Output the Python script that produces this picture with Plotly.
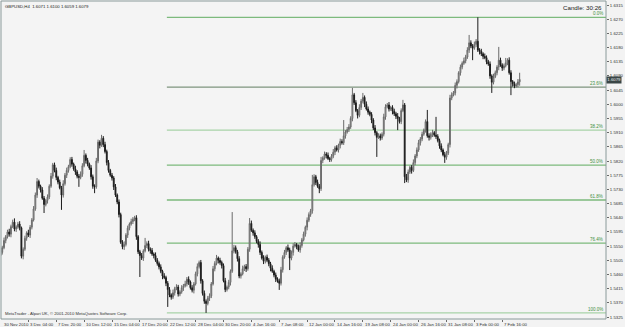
import plotly.graph_objects as go

# ---------------- data ----------------
symbol = "GBPUSD,H4"
first_open = 1.5520
closes = [
    1.5530,1.5545,1.5568,1.5580,1.5595,1.5588,1.5612,1.5626,1.5604,1.5611,
    1.5620,1.5608,1.5518,1.5540,1.5575,1.5592,1.5585,1.5610,1.5633,1.5668,
    1.5712,1.5755,1.5740,1.5728,1.5702,1.5682,1.5695,1.5706,1.5740,1.5772,
    1.5808,1.5790,1.5768,1.5753,1.5735,1.5712,1.5748,1.5775,1.5790,1.5802,
    1.5825,1.5810,1.5795,1.5785,1.5772,1.5768,1.5778,1.5805,1.5838,1.5822,
    1.5810,1.5798,1.5770,1.5740,1.5738,1.5820,1.5880,1.5870,1.5892,1.5872,
    1.5850,1.5815,1.5790,1.5775,1.5766,1.5738,1.5712,1.5690,1.5650,1.5562,
    1.5548,1.5555,1.5585,1.5607,1.5620,1.5628,1.5635,1.5640,1.5580,1.5532,
    1.5520,1.5512,1.5535,1.5552,1.5558,1.5540,1.5536,1.5525,1.5520,1.5505,
    1.5495,1.5484,1.5470,1.5455,1.5450,1.5432,1.5412,1.5395,1.5388,1.5402,
    1.5415,1.5420,1.5398,1.5405,1.5418,1.5424,1.5430,1.5445,1.5436,1.5418,
    1.5410,1.5430,1.5462,1.5485,1.5498,1.5440,1.5400,1.5375,1.5368,1.5385,
    1.5392,1.5430,1.5478,1.5495,1.5512,1.5505,1.5498,1.5488,1.5440,1.5412,
    1.5420,1.5435,1.5470,1.5535,1.5545,1.5532,1.5510,1.5455,1.5462,1.5478,
    1.5485,1.5478,1.5540,1.5622,1.5600,1.5592,1.5580,1.5565,1.5555,1.5530,
    1.5512,1.5502,1.5515,1.5505,1.5494,1.5480,1.5470,1.5458,1.5445,1.5440,
    1.5432,1.5475,1.5515,1.5530,1.5545,1.5538,1.5512,1.5530,1.5550,1.5555,
    1.5548,1.5538,1.5552,1.5570,1.5588,1.5610,1.5632,1.5650,1.5662,1.5745,
    1.5770,1.5752,1.5740,1.5732,1.5822,1.5830,1.5842,1.5838,1.5828,1.5825,
    1.5835,1.5848,1.5862,1.5855,1.5870,1.5882,1.5878,1.5900,1.5912,1.5920,
    1.5928,1.5955,1.6030,1.6005,1.5980,1.5965,1.5990,1.6010,1.6022,1.6000,
    1.5985,1.5975,1.5968,1.5950,1.5925,1.5910,1.5895,1.5900,1.5893,1.5905,
    1.5960,1.5992,1.5998,1.5985,1.5990,1.5978,1.5970,1.5962,1.5955,1.5945,
    1.5980,1.5998,1.5770,1.5760,1.5785,1.5800,1.5790,1.5815,1.5836,1.5855,
    1.5878,1.5890,1.5905,1.5918,1.5945,1.5900,1.5895,1.5905,1.5910,1.5902,
    1.5898,1.5885,1.5868,1.5855,1.5840,1.5832,1.5845,1.5872,1.6020,1.6030,
    1.6036,1.6060,1.6072,1.6100,1.6118,1.6130,1.6138,1.6150,1.6172,1.6195,
    1.6185,1.6178,1.6190,1.6200,1.6172,1.6168,1.6160,1.6152,1.6148,1.6135,
    1.6128,1.6090,1.6070,1.6088,1.6100,1.6118,1.6140,1.6125,1.6115,1.6122,
    1.6132,1.6140,1.6100,1.6072,1.6065,1.6058,1.6062,1.6071,1.6079,
]
# wick lengths above / below the candle body, in pips
upper_wick_pips = [
    8,6,9,5,7,10,6,8,12,5,7,9,4,6,8,5,10,7,6,9,
    8,11,6,5,9,7,5,8,6,10,6,7,9,5,8,6,11,7,9,6,
    7,8,5,10,6,7,9,8,17,6,8,5,9,7,6,10,8,6,11,7,
    9,6,8,5,7,6,9,5,8,6,7,10,6,8,5,9,7,6,8,5,
    6,8,5,24,7,9,6,8,5,10,7,6,8,5,9,6,7,8,5,10,
    6,9,7,5,8,6,10,7,9,5,8,6,7,10,6,8,5,9,6,7,
    8,6,9,7,10,5,8,6,7,9,5,8,6,123,9,7,6,8,5,10,
    6,8,7,17,9,6,8,5,7,10,6,9,5,8,7,6,9,5,8,6,
    7,9,6,8,5,10,7,6,9,8,5,7,10,6,8,5,9,7,6,31,
    8,6,9,7,11,5,8,6,9,5,7,10,6,8,5,9,7,50,6,8,
    9,7,22,6,8,5,10,7,14,6,9,8,5,7,6,9,5,8,7,6,
    10,8,6,9,5,7,8,6,10,5,7,16,6,9,8,5,7,10,6,8,
    9,6,8,5,7,37,8,6,9,5,58,7,6,8,5,9,7,6,10,8,
    6,9,7,5,8,6,10,7,9,25,8,6,9,7,76,6,8,5,9,7,
    6,8,5,9,7,6,42,8,5,7,15,6,9,8,5,7,6,9,21,
]
lower_wick_pips = [
    24,7,5,9,6,8,10,5,7,9,6,8,7,10,5,8,6,9,7,5,
    6,9,7,8,5,27,6,10,7,5,8,6,9,7,5,47,8,6,9,7,
    5,8,6,9,7,30,6,8,5,10,7,6,9,8,20,6,7,10,5,8,
    6,9,7,5,8,10,6,7,9,5,8,10,6,9,7,5,8,6,10,7,
    68,6,9,5,8,7,10,6,9,5,7,8,6,10,5,9,55,7,8,6,
    9,5,8,7,6,10,5,8,9,6,7,10,5,8,6,9,7,8,30,6,
    9,7,5,8,6,10,7,9,5,8,6,7,10,5,8,6,9,7,8,5,
    7,10,6,8,5,9,7,6,10,8,5,9,7,6,8,10,5,7,9,6,
    21,7,9,5,8,6,38,7,10,5,8,6,9,7,5,8,10,6,7,9,
    6,8,5,14,7,9,6,10,5,8,7,6,9,5,8,10,6,7,9,5,
    8,6,9,7,5,10,6,8,7,9,5,8,6,10,7,9,62,5,8,6,
    7,9,5,8,6,10,7,9,37,6,8,5,20,7,9,6,10,5,8,7,
    6,9,7,5,8,6,10,7,9,5,8,6,9,7,5,18,8,6,9,7,
    5,8,10,6,9,7,5,8,6,9,7,38,5,8,6,10,7,9,5,8,
    6,9,34,7,5,8,10,6,9,7,5,8,6,43,9,7,5,8,12,
]
x_tick_idx = [0,16,32,48,64,80,96,112,128,144,160,176,192,208,224,240,256,272,288]
x_tick_labels = ["30 Nov 2010","3 Dec 04:00","7 Dec 20:00","10 Dec 12:00","15 Dec 04:00",
                 "17 Dec 20:00","22 Dec 12:00","28 Dec 04:00","30 Dec 20:00","4 Jan 16:00",
                 "7 Jan 08:00","12 Jan 00:00","14 Jan 16:00","19 Jan 08:00","24 Jan 00:00",
                 "26 Jan 16:00","31 Jan 08:00","3 Feb 00:00","7 Feb 16:00"]
price_ticks = [1.6315,1.6270,1.6225,1.6180,1.6135,1.6090,1.6045,1.6000,1.5955,1.5910,1.5865,
               1.5820,1.5775,1.5730,1.5685,1.5640,1.5595,1.5550,1.5505,1.5460,1.5415,1.5370,1.5325]
fib_pcts = [0.0, 23.6, 38.2, 50.0, 61.8, 76.4, 100.0]
fib_labels = ["0.0%", "23.6%", "38.2%", "50.0%", "61.8%", "76.4%", "100.0%"]
fib_colors = ["#7dba7d", "#7f957f", "#a8d3a8", "#7dba7d", "#7dba7d", "#7dba7d", "#a8d3a8"]
fib_start_bar = 95.5
candle_timer = "Candle: 30:26"
copyright_text = "MetaTrader - Alpari UK, \u00a9 2001-2010 MetaQuotes Software Corp."

assert len(closes) == len(upper_wick_pips) == len(lower_wick_pips) == 299

# ---------------- build OHLC ----------------
opens = [first_open] + closes[:-1]
highs = [round(max(o, c) + u * 0.0001, 4) for o, c, u in zip(opens, closes, upper_wick_pips)]
lows = [round(min(o, c) - d * 0.0001, 4) for o, c, d in zip(opens, closes, lower_wick_pips)]
idx = list(range(len(closes)))

W, H = 625, 327
ML, MR, MT, MB = 1, 17, 1, 8
px_per_bar = 1.745
x_range = [0.5 / px_per_bar, (W - MR - ML - 0.5) / px_per_bar]
y_range = [1.53187, 1.63277]

fig = go.Figure()
fig.add_trace(go.Candlestick(
    x=idx, open=opens, high=highs, low=lows, close=closes,
    increasing=dict(line=dict(color="#6a6a6a", width=1), fillcolor="#c4c4c4"),
    decreasing=dict(line=dict(color="#1c1c1c", width=1), fillcolor="#1c1c1c"),
    whiskerwidth=0, hoverinfo="skip", showlegend=False,
))

fib_hi, fib_lo = max(highs), min(lows)
shapes, annotations = [], []
for p, lab, col in zip(fib_pcts, fib_labels, fib_colors):
    lvl = fib_hi - p / 100.0 * (fib_hi - fib_lo)
    shapes.append(dict(type="line", xref="x", yref="y", x0=fib_start_bar, x1=x_range[1],
                       y0=lvl, y1=lvl, line=dict(color=col, width=1.3), layer="below"))
    annotations.append(dict(x=0.998, xref="paper", y=lvl, yref="y", text=lab, showarrow=False,
                            xanchor="right", yanchor="bottom", yshift=-1,
                            font=dict(family="Liberation Sans", size=4.5, color="#3f8f3f")))

# frame
shapes.append(dict(type="rect", xref="paper", yref="paper", x0=0, x1=1, y0=0, y1=1,
                   line=dict(color="#8a9a9a", width=1)))

# x labels (left-aligned after tick, MT4 style)
for i, lab in zip(x_tick_idx, x_tick_labels):
    annotations.append(dict(x=max(i, x_range[0] + 0.6), xref="x", y=0, yref="paper", text=lab,
                            showarrow=False, xanchor="left", yanchor="top", yshift=-1,
                            font=dict(family="Liberation Sans", size=4.3, color="#303030")))

last_o, last_h, last_l, last_c = opens[-1], highs[-1], lows[-1], closes[-1]
annotations.append(dict(x=0.004, xref="paper", y=0.996, yref="paper",
                        text=f"{symbol}  {last_o:.4f} {last_h:.4f} {last_l:.4f} {last_c:.4f}",
                        showarrow=False, xanchor="left", yanchor="top",
                        font=dict(family="Liberation Sans", size=4.3, color="#202020")))
annotations.append(dict(x=0.997, xref="paper", y=0.997, yref="paper", text=candle_timer,
                        showarrow=False, xanchor="right", yanchor="top",
                        font=dict(family="Liberation Sans", size=6.2, color="#202020")))
annotations.append(dict(x=0.004, xref="paper", y=0.002, yref="paper", text=copyright_text,
                        showarrow=False, xanchor="left", yanchor="bottom",
                        font=dict(family="Liberation Sans", size=4.2, color="#303030")))
# current price box
annotations.append(dict(x=1.0, xref="paper", y=last_c, yref="y", text=f"{last_c:.4f}",
                        showarrow=False, xanchor="left", yanchor="middle", yshift=-1,
                        bgcolor="#3a4646", borderpad=0.3,
                        font=dict(family="Liberation Sans", size=4.3, color="#f0f0f0")))

fig.update_layout(
    width=W, height=H, margin=dict(l=ML, r=MR, t=MT, b=MB, pad=0),
    paper_bgcolor="#f3f3f3", plot_bgcolor="#f4f4f4",
    shapes=shapes, annotations=annotations, showlegend=False,
    xaxis=dict(range=x_range, rangeslider=dict(visible=False), showgrid=False, zeroline=False,
               tickvals=x_tick_idx, ticks="outside", ticklen=2, tickcolor="#6a6a6a",
               showticklabels=False, showline=False, fixedrange=True),
    yaxis=dict(range=y_range, side="right", showgrid=False, zeroline=False,
               tickvals=price_ticks, ticktext=[f"{v:.4f}" for v in price_ticks],
               ticks="outside", ticklen=2, tickcolor="#6a6a6a",
               tickfont=dict(family="Liberation Sans", size=4.3, color="#303030"),
               showline=False, fixedrange=True),
)
fig.write_html("out.html")
